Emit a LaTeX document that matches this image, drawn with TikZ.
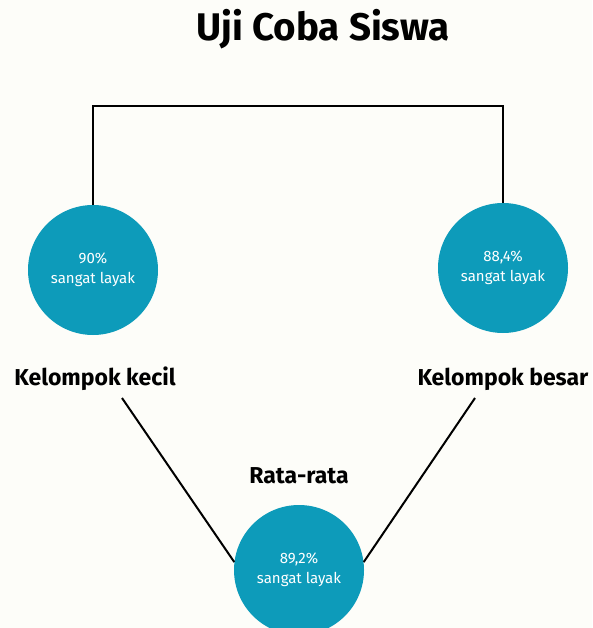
\documentclass[tikz,border=0pt]{standalone}
\usepackage{fontspec}
\setmainfont{Fira Sans}
\usepackage{xcolor}
\definecolor{teal1}{RGB}{13,155,186}
\definecolor{paper}{RGB}{253,253,249}

\begin{document}
\begin{tikzpicture}
  [x=1pt,y=-1pt,
   every node/.style={inner sep=0pt},
   bulat/.style={circle,fill=teal1,minimum size=130pt,text=white,
     font=\fontsize{15}{20}\selectfont,align=center},
   label/.style={font=\fontsize{23}{26}\selectfont\bfseries}]
  \fill[paper] (0,0) rectangle (592,628);
  \useasboundingbox (0,0) rectangle (592,628);
  \begin{scope}
  \clip (0,0) rectangle (592,628);

  \node (judul) at (323,29) {\fontsize{38.5}{42}\selectfont\bfseries Uji Coba Siswa};

  \node[bulat] (kecil) at (93,270) {90\%\\sangat layak};
  \node[bulat] (besar) at (503,268) {88,4\%\\sangat layak};
  \node[bulat] (rata) at (299,570) {89,2\%\\sangat layak};

  \node[label] (lkecil) at (95,379) {Kelompok kecil};
  \node[label] (lbesar) at (503,379) {Kelompok besar};
  \node[label] (lrata) at (299,476) {Rata-rata};

  \coordinate (atas) at (300,106);
  \coordinate (a1) at (122,398);
  \coordinate (a2) at (475,398);

  \draw[line width=2pt] (kecil.north) |- (atas) -| (besar.north);
  %\draw (lkecil) -- (rata);
  \foreach \from/\to in {a1/rata.173,a2/rata.7}
    \draw[line width=2pt] (\from) -- (\to);
  \end{scope}

\end{tikzpicture}
\end{document}
